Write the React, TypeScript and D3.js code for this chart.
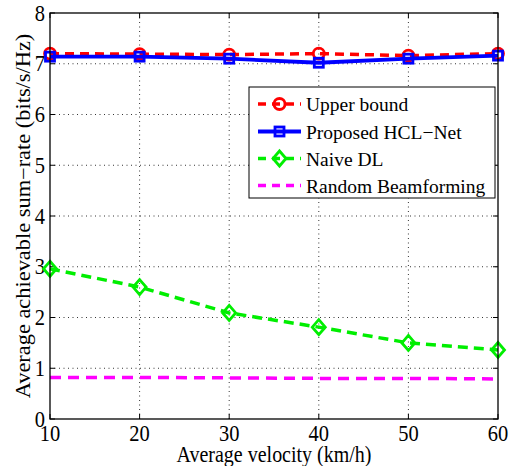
import React from "react";
import * as d3 from "d3";

const velocities = [10, 20, 30, 40, 50, 60];
const upperBound = [7.2, 7.19, 7.18, 7.2, 7.16, 7.2];
const hclNet = [7.14, 7.14, 7.1, 7.02, 7.1, 7.16];
const naiveDL = [2.96, 2.6, 2.09, 1.81, 1.5, 1.36];
const randomBF = [0.82, 0.82, 0.81, 0.8, 0.8, 0.79];
const xTicks = [10, 20, 30, 40, 50, 60];
const yTicks = [0, 1, 2, 3, 4, 5, 6, 7, 8];
const legendLabels = ["Upper bound", "Proposed HCL\u2212Net", "Naive DL", "Random Beamforming"];

const W = 513, H = 466;
const L = 50, R = 498, T = 13, B = 419;
const FONT = "Liberation Serif";

export default function App() {
  const x = d3.scaleLinear().domain([10, 60]).range([L, R]);
  const y = d3.scaleLinear().domain([0, 8]).range([B, T]);
  const line = d3.line<number>().x((_, i) => x(velocities[i])).y((d) => y(d));

  const series = [
    { data: upperBound, color: "#ff0000", dash: "9,6", marker: "circle", width: 3.5 },
    { data: hclNet, color: "#0000ff", dash: "none", marker: "square", width: 3.8 },
    { data: naiveDL, color: "#00ee00", dash: "10,6", marker: "diamond", width: 3.5 },
    { data: randomBF, color: "#ff00ff", dash: "11,7", marker: "none", width: 3.5 },
  ];

  const marker = (kind: string, cx: number, cy: number, color: string, key: any) => {
    if (kind === "circle")
      return <circle key={key} cx={cx} cy={cy} r={5.5} fill="none" stroke={color} strokeWidth={2.8} />;
    if (kind === "square")
      return <rect key={key} x={cx - 4.5} y={cy - 4.5} width={9} height={9} fill="none" stroke={color} strokeWidth={2.8} />;
    if (kind === "diamond")
      return (
        <path key={key} d={`M${cx},${cy - 7.5}L${cx + 6.5},${cy}L${cx},${cy + 7.5}L${cx - 6.5},${cy}Z`}
          fill="none" stroke={color} strokeWidth={2.8} />
      );
    return null;
  };

  const legX = 249, legY = 87, legW = 246, legH = 111;
  const legRowY = [104, 131.5, 158.5, 185.5];
  const ts = { fontFamily: FONT };

  return (
    <svg width={W} height={H} style={{ display: "block", position: "absolute", left: 0, top: 0 }}>
      <rect x={0} y={0} width={W} height={H} fill="#fff" />
      {/* grid */}
      {xTicks.slice(1, -1).map((t) => (
        <line key={"gx" + t} x1={x(t)} x2={x(t)} y1={T} y2={B} stroke="#000" strokeWidth={0.8} strokeDasharray="1,3.5" />
      ))}
      {yTicks.slice(1, -1).map((t) => (
        <line key={"gy" + t} x1={L} x2={R} y1={y(t)} y2={y(t)} stroke="#000" strokeWidth={0.8} strokeDasharray="1,3.5" />
      ))}
      {/* ticks */}
      {xTicks.map((t) => (
        <g key={"tx" + t}>
          <line x1={x(t)} x2={x(t)} y1={B} y2={B - 5} stroke="#000" />
          <line x1={x(t)} x2={x(t)} y1={T} y2={T + 5} stroke="#000" />
          <text x={0} y={0} fontSize={20.5} textAnchor="middle" style={ts}
            transform={`translate(${x(t)}, ${B + 22}) scale(1,1.12)`}>{t}</text>
        </g>
      ))}
      {yTicks.map((t) => (
        <g key={"ty" + t}>
          <line x1={L} x2={L + 5} y1={y(t)} y2={y(t)} stroke="#000" />
          <line x1={R} x2={R - 5} y1={y(t)} y2={y(t)} stroke="#000" />
          <text x={0} y={0} fontSize={20.5} textAnchor="end" style={ts}
            transform={`translate(45, ${y(t) + 7.5}) scale(1,1.12)`}>{t}</text>
        </g>
      ))}
      {/* series */}
      {series.map((s, i) => (
        <g key={"s" + i}>
          <path d={line(s.data) || ""} fill="none" stroke={s.color} strokeWidth={s.width}
            strokeDasharray={s.dash} />
          {s.data.map((v, j) => marker(s.marker, x(velocities[j]), y(v), s.color, j))}
        </g>
      ))}
      {/* axes box */}
      <rect x={L} y={T} width={R - L} height={B - T} fill="none" stroke="#000" strokeWidth={1.3} />
      {/* labels */}
      <text x={0} y={0} fontSize={20} textAnchor="middle" style={ts}
        transform={`translate(${(L + R) / 2}, ${B + 43}) scale(1,1.12)`}>Average velocity (km/h)</text>
      <text x={0} y={0} fontSize={20} textAnchor="middle" style={ts}
        transform={`translate(30, ${(T + B) / 2}) rotate(-90) scale(1.12,1)`}>
        Average achievable sum{"\u2212"}rate (bits/s/Hz)
      </text>
      {/* legend */}
      <rect x={legX} y={legY} width={legW} height={legH} fill="#fff" stroke="#000" strokeWidth={1} />
      {series.map((s, i) => (
        <g key={"l" + i}>
          <line x1={258} x2={301} y1={legRowY[i]} y2={legRowY[i]} stroke={s.color} strokeWidth={s.width}
            strokeDasharray={s.dash === "none" ? "none" : "8,6"} />
          {marker(s.marker, 279.5, legRowY[i], s.color, "m")}
          <text x={306} y={legRowY[i] + 7} fontSize={19.5} style={ts}>{legendLabels[i]}</text>
        </g>
      ))}
    </svg>
  );
}
